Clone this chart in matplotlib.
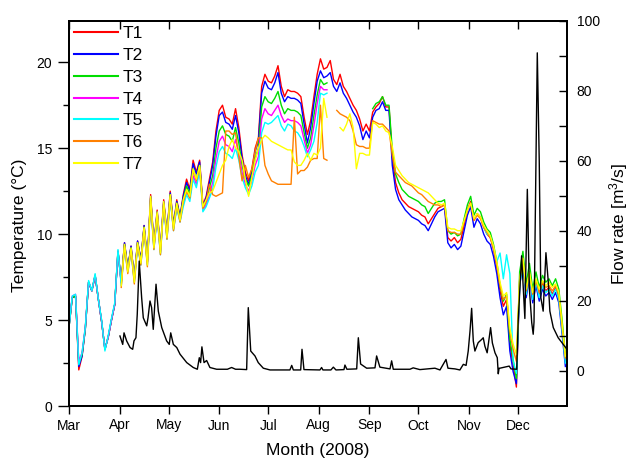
import numpy as np
import matplotlib
matplotlib.use("Agg")
import matplotlib.pyplot as plt
from matplotlib.ticker import FixedLocator, MultipleLocator

plt.rcParams['font.family'] = ['Liberation Sans', 'DejaVu Sans']
plt.rcParams['mathtext.default'] = 'regular'

nan = np.nan

# ---------------- data ----------------
# days since 1 March 2008 (sampling of the temperature records)
days = list(range(0, 305, 2))
month_labels = ['Mar', 'Apr', 'May', 'Jun', 'Jul', 'Aug', 'Sep', 'Oct', 'Nov', 'Dec']
series_names = ['T1', 'T2', 'T3', 'T4', 'T5', 'T6', 'T7']
series_colors = ['#ff0000', '#0000ff', '#00dd00', '#ff00ff', '#00ffff', '#ff8000', '#ffff00']

T1 = [4.6, 6.3, 6.4, 2.1, 2.9, 4.5, 7.2, 6.7, 7.6, 6.2,
      4.9, 3.3, 4.0, 5.0, 5.9, 9.0, 7.2, 9.5, 8.0, 9.3,
      7.4, 9.6, 8.5, 10.5, 8.4, 12.3, 9.4, 11.4, 9.1, 12.0,
      10.0, 12.5, 10.5, 12.0, 11.0, 12.3, 13.2, 12.6, 14.3, 13.6,
      14.3, 11.7, 12.2, 13.2, 14.2, 16.0, 17.2, 17.5, 16.8, 16.7,
      16.4, 17.3, 16.2, 14.6, 13.6, 13.1, 13.8, 15.0, 15.6, 18.6,
      19.3, 18.9, 18.8, 19.2, 19.8, 18.6, 18.0, 18.4, 18.3, 18.3,
      18.2, 18.0, 16.8, 15.8, 16.6, 18.0, 19.3, 20.2, 19.6, 19.7,
      20.1, 19.0, 18.7, 19.3, 18.6, 18.3, 17.9, 17.5, 17.2, 16.7,
      16.0, 16.4, 16.0, 17.1, 17.4, 17.6, 18.0, 17.4, 17.4, 14.5,
      13.0, 12.4, 12.0, 11.8, 11.6, 11.5, 11.4, 11.3, 11.1, 11.0,
      10.6, 10.9, 11.2, 11.5, 11.6, 11.7, 9.8, 9.6, 9.8, 9.5,
      9.7, 10.5, 11.4, 11.9, 10.8, 11.2, 11.0, 10.4, 10.0, 9.8,
      9.1, 8.1, 6.7, 5.8, 6.2, 3.6, 2.4, 1.1, 7.3, 8.6,
      6.6, 7.8, 6.3, 7.3, 6.4, 7.1, 6.7, 6.9, 6.5, 6.9,
      6.3, 4.5, 2.6]

T2 = [4.6, 6.3, 6.4, 2.3, 2.9, 4.5, 7.2, 6.7, 7.6, 6.2,
      4.9, 3.3, 4.0, 5.0, 5.9, 9.0, 7.2, 9.5, 8.0, 9.3,
      7.4, 9.6, 8.5, 10.5, 8.4, 12.2, 9.4, 11.3, 9.1, 11.9,
      10.0, 12.4, 10.5, 11.9, 11.0, 12.2, 13.0, 12.5, 14.1, 13.5,
      14.2, 11.6, 12.1, 13.0, 14.0, 15.7, 16.9, 17.1, 16.5, 16.4,
      16.1, 16.9, 15.9, 14.4, 13.4, 12.9, 13.6, 14.8, 15.4, 18.2,
      18.9, 18.5, 18.4, 18.8, 19.4, 18.2, 17.7, 18.0, 17.9, 17.9,
      17.8, 17.6, 16.4, 15.3, 16.2, 17.6, 18.9, 19.5, 19.1, 19.2,
      19.4, 18.6, 18.3, 18.8, 18.2, 17.9, 17.5, 17.1, 16.8, 16.3,
      15.5, 16.0, 15.6, 16.8, 17.2, 17.3, 17.7, 17.2, 17.2, 14.0,
      12.6, 12.0, 11.7, 11.4, 11.2, 11.0, 10.9, 10.8, 10.6, 10.5,
      10.2, 10.6, 11.0, 11.3, 11.4, 11.5, 9.5, 9.2, 9.4, 9.1,
      9.3, 10.2, 11.1, 11.6, 10.4, 10.9, 10.6, 10.0, 9.6, 9.4,
      8.7, 7.7, 6.3, 5.3, 5.8, 3.2, 2.0, 1.3, 7.0, 8.3,
      6.3, 7.5, 6.0, 7.0, 6.1, 6.8, 6.4, 6.6, 6.2, 6.6,
      6.0, 4.2, 2.3]

T3 = [4.6, 6.3, 6.4, 2.5, 3.0, 4.5, 7.2, 6.7, 7.6, 6.2,
      4.9, 3.3, 4.0, 5.0, 5.9, 9.0, 7.2, 9.4, 8.0, 9.2,
      7.4, 9.5, 8.4, 10.4, 8.4, 12.1, 9.3, 11.2, 9.0, 11.8,
      9.9, 12.3, 10.4, 11.8, 10.9, 12.0, 12.8, 12.3, 13.8, 13.2,
      14.0, 11.5, 11.9, 12.7, 13.4, 15.0, 16.0, 16.3, 15.8, 15.7,
      15.4, 16.2, 15.3, 14.0, 13.2, 12.8, 13.4, 14.4, 15.0, 17.4,
      18.0, 17.7, 17.6, 17.9, 18.3, 17.5, 17.0, 17.3, 17.2, 17.2,
      17.1, 16.9, 15.9, 15.0, 15.6, 16.9, 18.1, 19.0, 18.7, 18.8,
      nan, nan, nan, nan, nan, nan, nan, nan, nan, nan,
      nan, nan, nan, 17.3, 17.6, 17.7, 18.0, 17.5, 17.5, 14.9,
      13.5, 13.0, 12.6, 12.4, 12.2, 12.1, 12.0, 11.9, 11.7, 11.6,
      11.2, 11.5, 11.8, 11.9, 11.9, 12.0, 10.2, 10.0, 10.1, 9.9,
      10.0, 10.9, 11.7, 12.2, 11.1, 11.5, 11.3, 10.7, 10.3, 10.1,
      9.4, 8.4, 7.0, 6.1, 6.5, 3.9, 2.7, 1.6, 7.8, 9.0,
      7.1, 8.3, 6.8, 7.8, 6.9, 7.6, 7.2, 7.4, 7.0, 7.4,
      6.8, 5.0, 3.0]

T4 = [4.7, 6.4, 6.5, 2.6, 3.1, 4.6, 7.2, 6.7, 7.6, 6.2,
      4.9, 3.3, 4.0, 5.0, 5.9, 9.0, 7.1, 9.3, 7.9, 9.1,
      7.3, 9.4, 8.3, 10.3, 8.3, 12.0, 9.2, 11.1, 8.9, 11.7,
      9.8, 12.1, 10.3, 11.6, 10.8, 11.8, 12.5, 12.1, 13.4, 12.9,
      13.8, 11.4, 11.7, 12.3, 13.0, 14.4, 15.4, 15.7, 15.2, 15.1,
      14.8, 15.5, 14.7, 13.6, 12.9, 12.5, 13.1, 14.0, 14.5, 16.7,
      17.3, 17.0, 16.9, 17.2, 17.5, 16.9, 16.5, 16.7, 16.6, 16.6,
      16.5, 16.3, 15.5, 14.7, 15.2, 16.3, 17.6, 18.6, 18.4, 18.4] + [nan] * 73

T5 = [4.6, 6.4, 6.5, 2.4, 3.1, 4.6, 7.3, 6.7, 7.7, 6.2,
      5.0, 3.2, 4.1, 5.1, 6.0, 9.1, 7.0, 9.2, 7.8, 9.0,
      7.2, 9.3, 8.2, 10.2, 8.2, 11.9, 9.1, 11.0, 8.8, 11.6,
      9.7, 12.0, 10.2, 11.5, 10.7, 11.6, 12.3, 11.9, 13.2, 12.7,
      13.7, 11.3, 11.6, 12.1, 12.6, 13.9, 14.8, 15.1, 14.7, 14.6,
      14.4, 15.0, 14.3, 13.3, 12.7, 12.3, 12.8, 13.6, 14.0, 15.9,
      16.5, 16.4, 16.5, 16.7, 16.9, 16.3, 16.0, 16.4, 16.3, 16.0,
      15.9, 15.6, 15.1, 14.5, 14.9, 15.4, 16.5, 18.2, 18.1, 18.2] + [nan] * 47 + \
     [10.4, 10.0, 9.9,
      9.2, 8.4, 8.9, 7.4, 8.8, 7.7, 2.6, 1.9, 7.0, 8.4,
      6.5, 7.7, 6.2, 7.2, 6.3, 7.0, 6.6, 6.8, 6.4, 6.8,
      6.2, 4.4, 2.5]

T6 = [nan] * 16 + \
     [6.9, 9.3, 7.7, 9.1,
      7.1, 9.4, 8.2, 10.3, 8.1, 12.1, 9.1, 11.2, 8.8, 11.8,
      9.7, 12.2, 10.2, 11.7, 10.7, 11.9, 12.5, 12.1, 13.7, 13.1,
      13.9, 11.5, 11.9, 12.9, 12.3, 12.2, 12.3, 12.4, 16.0, 16.0,
      15.8, 15.9, 14.5, 13.1, 14.0, 13.3, 13.8, 14.8, 15.6, 15.6,
      14.0, 13.5, 13.1, 13.0, 12.9, 12.9, 12.9, 12.9, 12.9, 16.8,
      13.5, 13.7, 13.7, 13.9, 14.3, 14.4, 14.4, 17.5, 14.4, 14.3,
      nan, nan, 17.2, 17.0, 16.9, 16.8, 16.6, 16.0, 15.2, 15.1,
      15.1, 15.0, 15.0, 16.6, 16.5, 16.4, 16.4, 16.2, 16.0, 14.6,
      13.6, 13.4, 13.2, 13.0, 12.9, 12.8, 12.6, 12.4, 12.3, 12.1,
      11.9, 11.8, 11.7, 11.7, 11.6, 11.7, 10.2, 10.1, 10.1, 10.0,
      10.0, 10.7, 11.4, 11.8, 10.8, 11.1, 10.9, 10.4, 10.1, 9.8,
      9.2, 8.2, 7.0, 6.2, 6.4, 4.3, 3.3, 2.6, 7.3, 8.5,
      6.7, 7.7, 6.5, 7.3, 6.6, 7.2, 6.9, 7.0, 6.7, 7.0,
      6.4, 4.6, 2.8]

T7 = [nan] * 16 + \
     [7.0, 9.4, 7.8, 9.2,
      7.2, 9.5, 8.3, 10.4, 8.2, 12.2, 9.2, 11.3, 8.9, 11.9,
      9.8, 12.3, 10.3, 11.8, 10.8, 12.0, 12.6, 12.2, 13.8, 13.2,
      14.0, 11.6, 12.0, 12.4, 12.5, 13.0, 13.5, 14.0, 14.3, 15.1,
      15.5, 15.0, 14.8, 14.3, 13.2, 12.2, 13.3, 14.3, 15.0, 15.5,
      15.75, 15.6, 15.4, 15.3, 15.2, 15.1, 15.0, 14.9, 14.9, 14.2,
      14.0, 14.0, 14.3, 14.7, 14.3, 14.7, 14.6, 15.0, 17.9, 16.8,
      nan, nan, nan, 16.2, 16.0, 16.4, 17.0, 16.2, 13.8, 14.7,
      14.7, 14.6, 14.6, 16.5, 16.4, 16.2, 16.3, 16.0, 15.9, 15.1,
      14.0, 13.7, 13.4, 13.2, 13.0, 12.9, 12.8, 12.7, 12.6, 12.5,
      12.4, 12.2, 12.0, 11.8, 11.7, 11.8, 10.4, 10.3, 10.3, 10.2,
      10.2, 10.8, 11.4, 11.8, 10.9, 11.2, 11.0, 10.5, 10.2, 9.9,
      9.3, 8.4, 7.2, 6.4, 6.6, 4.5, 3.6, 3.0, 7.4, 8.6,
      6.8, 7.8, 6.6, 7.4, 6.8, 7.3, 7.0, 7.2, 6.9, 7.1,
      6.6, 4.8, 2.9]

# flow rate record (days since 1 March 2008, m3/s)
flow_days = [31.2, 32.9, 33.7, 35.3, 37.4, 39.0, 39.8, 41.0, 41.8, 43.0,
             44.5, 45.5, 47.6, 48.4, 49.6, 50.6, 51.6, 53.3, 54.7, 56.8,
             59.8, 61.4, 62.3, 63.9, 66.0, 68.0, 72.1, 76.1, 78.6, 79.8,
             80.6, 81.4, 82.7, 84.3, 86.3, 90.4, 97.0, 99.6, 102.0, 104.7,
             108.8, 109.8, 111.3, 113.9, 115.9, 119.0, 123.1, 135.3, 136.4, 137.4,
             141.9, 142.7, 143.9, 153.7, 154.7, 155.5, 160.4, 161.9, 163.5, 168.4,
             169.0, 170.2, 176.2, 177.2, 178.6, 182.3, 187.4, 188.4, 190.4, 196.6,
             197.6, 198.6, 208.8, 210.8, 214.9, 224.1, 227.2, 230.9, 232.1, 236.4,
             239.4, 241.5, 243.2, 244.5, 245.6, 246.6, 247.6, 248.6, 250.6, 252.7,
             253.7, 254.7, 256.1, 258.2, 259.3, 260.9, 262.3, 262.9, 263.4, 263.9,
             269.6, 270.7, 274.2, 275.1, 277.2, 278.2, 279.2, 280.7, 281.9, 283.4,
             284.3, 284.8, 285.8, 286.8, 288.0, 289.0, 290.4, 292.1, 293.5, 294.5,
             296.6, 299.6, 302.7, 305.0]
flow_vals = [10.0, 7.6, 10.9, 8.6, 6.7, 6.2, 8.6, 9.5, 16.2, 31.4,
             20.9, 15.2, 12.9, 15.2, 20.0, 18.1, 11.9, 24.8, 17.1, 12.4,
             8.6, 7.6, 10.9, 7.6, 6.7, 4.8, 2.4, 1.0, 0.5, 3.8,
             2.4, 6.9, 2.4, 3.0, 1.0, 0.5, 0.5, 1.0, 0.5, 0.5,
             0.4, 18.1, 5.7, 4.3, 2.4, 0.8, 0.3, 0.3, 1.6, 0.3,
             0.3, 6.2, 0.4, 0.3, 1.0, 0.3, 0.3, 1.1, 0.3, 0.4,
             1.7, 0.5, 0.6, 9.5, 2.0, 0.8, 0.9, 4.3, 1.1, 0.6,
             2.9, 0.5, 0.5, 0.9, 0.4, 0.8, 0.3, 3.3, 0.8, 0.6,
             0.3, 1.9, 1.6, 5.7, 11.4, 17.9, 8.6, 5.7, 8.1, 9.0,
             9.5, 7.1, 5.2, 12.4, 8.0, 5.2, 3.8, -0.8, 0.8, 0.8,
             1.4, 0.6, 0.5, 14.3, 32.9, 23.8, 15.0, 51.9, 23.8, 13.8,
             10.5, 14.0, 52.4, 90.9, 60.0, 20.9, 17.1, 33.8, 25.7, 17.1,
             12.4, 9.5, 7.6, 6.2]

temps = [T1, T2, T3, T4, T5, T6, T7]
for s in temps:
    assert len(s) == len(days), len(s)
assert len(flow_days) == len(flow_vals)

month_starts = (np.arange('2008-03', '2009-01', dtype='datetime64[M]').astype('datetime64[D]')
                - np.datetime64('2008-03-01')).astype(int)
x_end = int((np.datetime64('2008-12-31') - np.datetime64('2008-03-01')).astype(int))

# ---------------- figure ----------------
W, H = 630, 459
fig = plt.figure(figsize=(W / 100, H / 100), dpi=100)
L, R, T, B = 69, 567, 21, 406
ax = fig.add_axes([L / W, 1 - B / H, (R - L) / W, (B - T) / H])

for name, col, vals in zip(series_names, series_colors, temps):
    ax.plot(days, vals, color=col, lw=1.0, label=name)

ax.set_xlim(0, x_end)
ax.set_ylim(0, 22.4)
ax.xaxis.set_major_locator(FixedLocator(month_starts))
ax.set_xticklabels(month_labels)
ax.yaxis.set_major_locator(MultipleLocator(5))
ax.yaxis.set_minor_locator(MultipleLocator(2.5))
ax.tick_params(axis='x', which='major', direction='out', length=6, width=1.0,
               labelsize=10, pad=3, top=False)
ax.tick_params(axis='y', which='major', direction='out', length=8, width=1.0,
               labelsize=10, pad=4, right=False)
ax.tick_params(axis='y', which='minor', direction='out', length=4, width=1.0, right=False)
for sp in ax.spines.values():
    sp.set_linewidth(1.2)

# top ticks (inward)
axt = ax.twiny()
axt.set_xlim(ax.get_xlim())
axt.xaxis.set_major_locator(FixedLocator(month_starts))
axt.tick_params(axis='x', direction='in', length=6, width=1.0, labeltop=False)

# flow rate axis
ax2 = ax.twinx()
ax2.plot(flow_days, flow_vals, color='black', lw=1.0)
ax2.set_ylim(-10, 100)
ax2.yaxis.set_major_locator(FixedLocator([0, 20, 40, 60, 80, 100]))
ax2.yaxis.set_minor_locator(FixedLocator([10, 30, 50, 70, 90]))
ax2.tick_params(axis='y', which='major', direction='in', length=5.5, width=1.0,
                labelsize=10, pad=7)
ax2.tick_params(axis='y', which='minor', direction='in', length=5.5, width=1.0)
for a in (ax2, axt):
    for sp in a.spines.values():
        sp.set_linewidth(1.2)

leg = ax.legend(loc='upper left', frameon=False, fontsize=12.5, handlelength=2.5,
                handletextpad=0.3, labelspacing=0.38, borderaxespad=0.1, borderpad=0.2)
for ln in leg.get_lines():
    ln.set_linewidth(1.5)

fig.text(19.5 / W, 1 - 225.5 / H, 'Temperature (\u00b0C)', rotation=90,
         ha='center', va='center', fontsize=12.5)
fig.text(619 / W, 1 - 224 / H, 'Flow rate [m$^{3}$/s]', rotation=90,
         ha='center', va='center', fontsize=12.5)
fig.text(318 / W, 1 - 451 / H, 'Month (2008)', ha='center', va='center', fontsize=12.5)

fig.savefig('out.png', dpi=100)
